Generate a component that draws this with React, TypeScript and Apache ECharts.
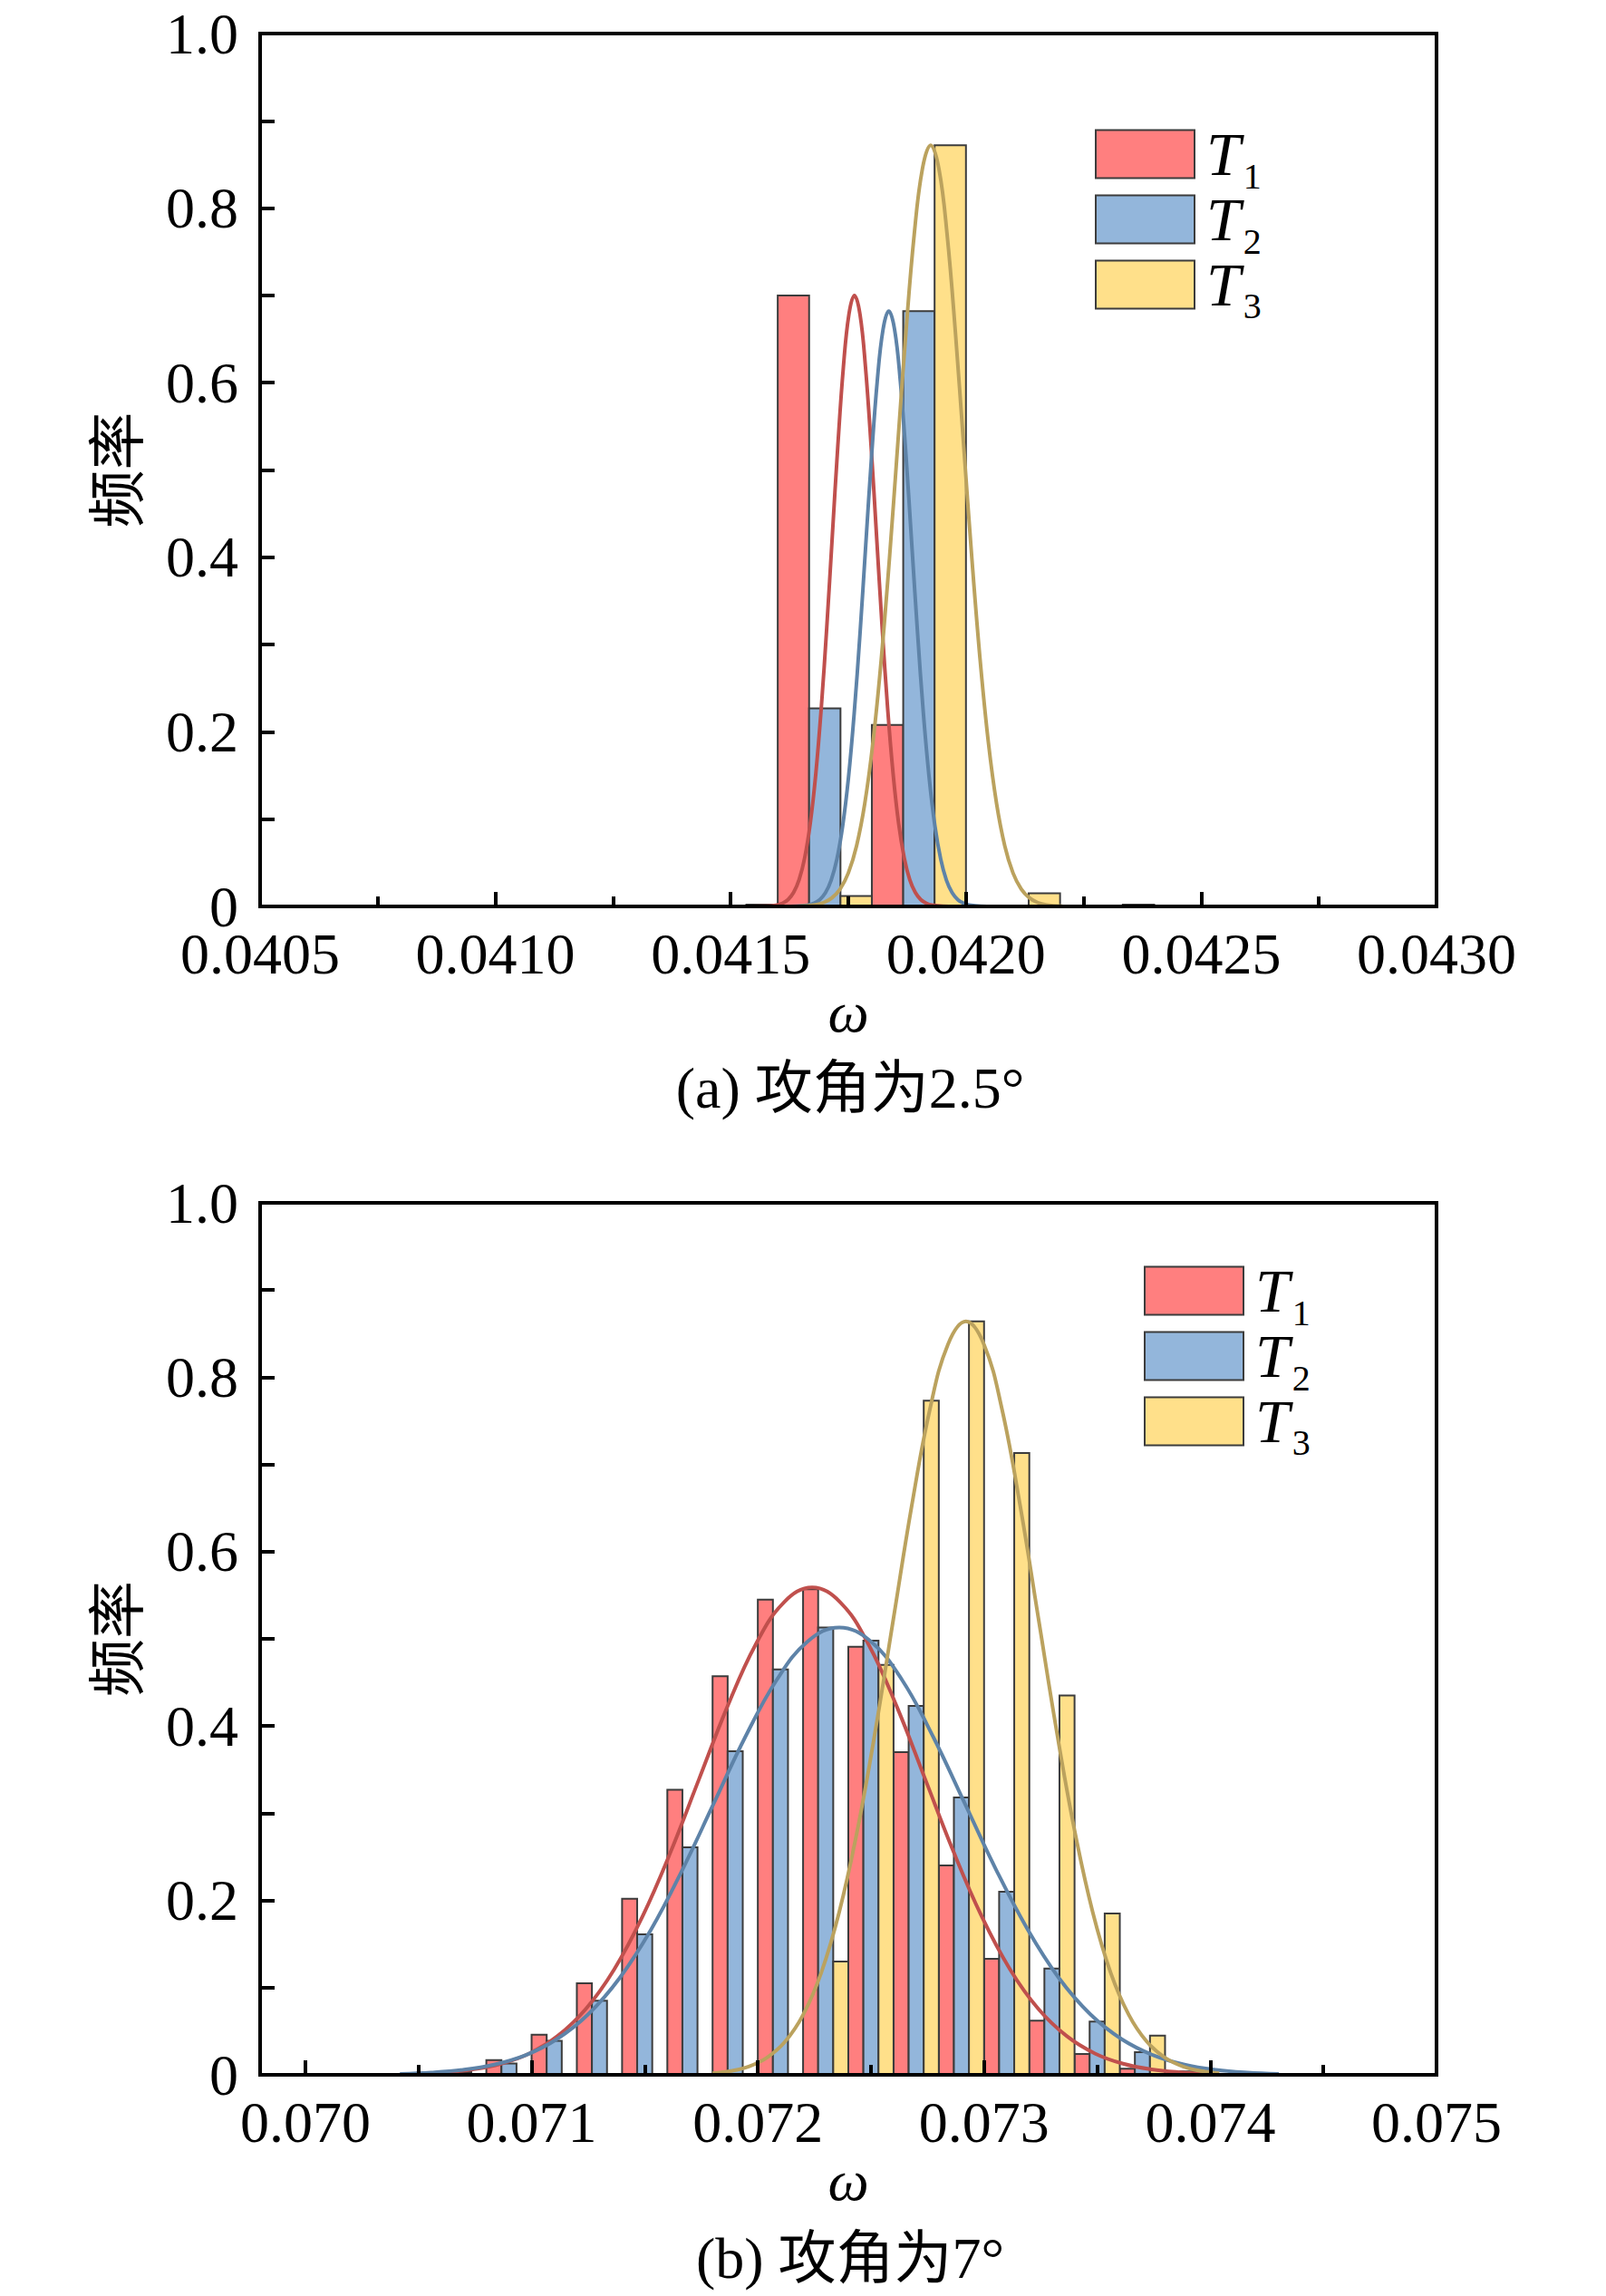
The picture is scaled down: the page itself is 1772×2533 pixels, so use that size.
import { useEffect, useRef } from "react";
import * as echarts from "echarts";

// histogram bin width (both panels), each bin holds T1/T2/T3 side by side
const BIN_W = 0.0002;

// (a) angle of attack 2.5 deg
const binsA = [0.0414, 0.0416, 0.0418, 0.042, 0.0422];
const t1A = [0, 0.7, 0.208, 0, 0];
const t2A = [0, 0.227, 0.682, 0, 0];
const t3A = [0.002, 0.012, 0.872, 0.015, 0.002];

// (b) angle of attack 7 deg
const binsB = [
  0.0706, 0.0708, 0.071, 0.0712, 0.0714, 0.0716, 0.0718, 0.072, 0.0722,
  0.0724, 0.0726, 0.0728, 0.073, 0.0732, 0.0734, 0.0736, 0.0738,
];
const t1B = [0.002, 0.017, 0.046, 0.105, 0.202, 0.327, 0.457, 0.545, 0.557, 0.491, 0.37, 0.24, 0.133, 0.062, 0.024, 0.007, 0];
const t2B = [0.003, 0.013, 0.039, 0.085, 0.161, 0.261, 0.371, 0.465, 0.513, 0.498, 0.423, 0.318, 0.21, 0.122, 0.061, 0.026, 0.004];
const t3B = [0, 0, 0, 0, 0, 0, 0, 0, 0.13, 0.47, 0.773, 0.864, 0.713, 0.435, 0.185, 0.045, 0];

// fitted curves, points
const fitT1A: [number, number][] = [
  [0.04151, 0], [0.041575, 0.0002], [0.0415985, 0.0015], [0.0416103, 0.0036], [0.041622, 0.0078],
  [0.0416338, 0.016], [0.0416455, 0.0307], [0.0416573, 0.0557], [0.041669, 0.0947],
  [0.0416808, 0.1514], [0.0416925, 0.2273], [0.0417043, 0.3205], [0.041716, 0.4246],
  [0.0417278, 0.5284], [0.0417395, 0.6178], [0.0417513, 0.6784], [0.041763, 0.7],
  [0.0417748, 0.6784], [0.0417865, 0.6178], [0.0417983, 0.5284], [0.04181, 0.4246],
  [0.0418218, 0.3205], [0.0418335, 0.2273], [0.0418453, 0.1514], [0.041857, 0.0947],
  [0.0418688, 0.0557], [0.0418805, 0.0307], [0.0418923, 0.016], [0.041904, 0.0078],
  [0.0419158, 0.0036], [0.0419275, 0.0015], [0.041951, 0.0002], [0.04198, 0],
];
const fitT2A: [number, number][] = [
  [0.04161, 0], [0.04164, 0.0002], [0.0416645, 0.0015], [0.0416768, 0.0035], [0.041689, 0.0076],
  [0.0417013, 0.0155], [0.0417135, 0.0299], [0.0417258, 0.0543], [0.041738, 0.0923],
  [0.0417503, 0.1475], [0.0417625, 0.2214], [0.0417748, 0.3122], [0.041787, 0.4136],
  [0.0417993, 0.5148], [0.0418115, 0.6019], [0.0418238, 0.661], [0.041836, 0.682],
  [0.0418483, 0.661], [0.0418605, 0.6019], [0.0418728, 0.5148], [0.041885, 0.4136],
  [0.0418973, 0.3122], [0.0419095, 0.2214], [0.0419218, 0.1475], [0.041934, 0.0923],
  [0.0419463, 0.0543], [0.0419585, 0.0299], [0.0419708, 0.0155], [0.041983, 0.0076],
  [0.0419953, 0.0035], [0.0420075, 0.0015], [0.042032, 0.0002], [0.04206, 0],
];
const fitT3A: [number, number][] = [
  [0.041645, 0.0003], [0.04168, 0.0019], [0.0416975, 0.0044], [0.041715, 0.0097],
  [0.0417325, 0.0199], [0.04175, 0.0383], [0.0417675, 0.0694], [0.041785, 0.118],
  [0.0418025, 0.1886], [0.04182, 0.2831], [0.0418375, 0.3992], [0.041855, 0.5289],
  [0.0418725, 0.6582], [0.04189, 0.7695], [0.0419075, 0.8451], [0.041925, 0.872],
  [0.0419425, 0.8451], [0.04196, 0.7695], [0.0419775, 0.6582], [0.041995, 0.5289],
  [0.0420125, 0.3992], [0.04203, 0.2831], [0.0420475, 0.1886], [0.042065, 0.118],
  [0.0420825, 0.0694], [0.0421, 0.0383], [0.0421175, 0.0199], [0.042135, 0.0097],
  [0.0421525, 0.0044], [0.04217, 0.0019], [0.042205, 0.0003],
];
const fitT1B: [number, number][] = [
  [0.07049, 0.0012], [0.070615, 0.0029], [0.07074, 0.0062], [0.070865, 0.0127],
  [0.07099, 0.0245], [0.071115, 0.0445], [0.07124, 0.0756], [0.071365, 0.1209],
  [0.07149, 0.1815], [0.071615, 0.2559], [0.07174, 0.339], [0.071865, 0.4219],
  [0.07199, 0.4933], [0.072115, 0.5418], [0.07224, 0.559], [0.072365, 0.5418],
  [0.07249, 0.4933], [0.072615, 0.4219], [0.07274, 0.339], [0.072865, 0.2559],
  [0.07299, 0.1815], [0.073115, 0.1209], [0.07324, 0.0756], [0.073365, 0.0445],
  [0.07349, 0.0245], [0.073615, 0.0127], [0.07374, 0.0062], [0.073865, 0.0029],
  [0.07399, 0.0012],
];
const fitT2B: [number, number][] = [
  [0.070418, 0.0011], [0.070556, 0.0026], [0.070695, 0.0057], [0.070834, 0.0117],
  [0.070973, 0.0225], [0.071111, 0.0408], [0.07125, 0.0694], [0.071389, 0.111],
  [0.071528, 0.1666], [0.071666, 0.2349], [0.071805, 0.3111], [0.071944, 0.3872],
  [0.072083, 0.4527], [0.072221, 0.4972], [0.07236, 0.513], [0.072499, 0.4972],
  [0.072638, 0.4527], [0.072776, 0.3872], [0.072915, 0.3111], [0.073054, 0.2349],
  [0.073193, 0.1666], [0.073331, 0.111], [0.07347, 0.0694], [0.073609, 0.0408],
  [0.073748, 0.0225], [0.073886, 0.0117], [0.074025, 0.0057], [0.074164, 0.0026],
  [0.074303, 0.0011],
];
const fitT3B: [number, number][] = [
  [0.0718, 0.0019], [0.07188, 0.0044], [0.07196, 0.0096], [0.07204, 0.0197],
  [0.07212, 0.0379], [0.0722, 0.0688], [0.07228, 0.1169], [0.07236, 0.1869],
  [0.07244, 0.2805], [0.07252, 0.3955], [0.0726, 0.524], [0.07268, 0.6521],
  [0.07276, 0.7625], [0.07284, 0.8374], [0.07292, 0.864], [0.073, 0.8374],
  [0.07308, 0.7625], [0.07316, 0.6521], [0.07324, 0.524], [0.07332, 0.3955],
  [0.0734, 0.2805], [0.07348, 0.1869], [0.07356, 0.1169], [0.07364, 0.0688],
  [0.07372, 0.0379], [0.0738, 0.0197], [0.07388, 0.0096], [0.07396, 0.0044],
  [0.07404, 0.0019],
];

// axis ticks / labels
const xLabelsA = [0.0405, 0.041, 0.0415, 0.042, 0.0425, 0.043];
const xMinorA = [0.04075, 0.04125, 0.04175, 0.04225, 0.04275];
const xLabelsB = [0.07, 0.071, 0.072, 0.073, 0.074, 0.075];
const xMinorB = [0.0705, 0.0715, 0.0725, 0.0735, 0.0745];
const names = ["T1", "T2", "T3"];

const FILL = ["#FF7F7F", "#93B6DB", "#FFE08A"];
const CURVE = ["#C0504D", "#5E83A8", "#BBA25E"];
const EDGE = "#3c3c3c";
const SERIF = '"Liberation Serif", "Times New Roman", "Noto Sans CJK SC", serif';

const bars = (k: number, bins: number[], vals: number[], axis: number): any => ({
  type: "custom",
  name: names[k],
  xAxisIndex: axis * 2,
  yAxisIndex: axis,
  data: bins.map((b, i) => [b, vals[i]]).filter((d) => d[1] > 0),
  encode: { x: 0, y: 1 },
  z: 2,
  renderItem: (_p: any, api: any) => {
    const x0 = api.value(0) + (k * BIN_W) / 3;
    const p0 = api.coord([x0, 0]);
    const p1 = api.coord([x0 + BIN_W / 3, api.value(1)]);
    return {
      type: "rect",
      shape: { x: p0[0], y: p1[1], width: p1[0] - p0[0], height: p0[1] - p1[1] },
      style: { fill: FILL[k], stroke: EDGE, lineWidth: 2 },
    };
  },
});

const curve = (k: number, data: [number, number][], axis: number): any => ({
  type: "line",
  name: names[k] + " fit",
  xAxisIndex: axis * 2,
  yAxisIndex: axis,
  data,
  showSymbol: false,
  symbol: "none",
  smooth: 0.4,
  z: 3,
  lineStyle: { color: CURVE[k], width: 4 },
  itemStyle: { color: CURVE[k] },
});

const xMain = (grid: number, min: number, max: number, labels: number[], digits: number): any => ({
  type: "value",
  gridIndex: grid,
  position: "bottom",
  min,
  max,
  z: 5,
  name: "ω",
  nameLocation: "middle",
  nameGap: 84,
  nameTextStyle: { fontFamily: SERIF, fontSize: 64, fontStyle: "italic", color: "#000" },
  axisLine: { lineStyle: { color: "#000", width: 4 } },
  axisTick: { inside: true, length: 16, lineStyle: { color: "#000", width: 4 }, customValues: labels },
  axisLabel: {
    customValues: labels,
    margin: 25,
    fontFamily: SERIF,
    fontSize: 64,
    lineHeight: 54,
    color: "#000",
    formatter: (v: number) => v.toFixed(digits),
  },
  splitLine: { show: false },
});

const xMinor = (grid: number, min: number, max: number, ticks: number[]): any => ({
  type: "value",
  gridIndex: grid,
  position: "bottom",
  min,
  max,
  z: 5,
  axisLine: { show: false },
  axisLabel: { show: false },
  splitLine: { show: false },
  axisTick: { inside: true, length: 11, lineStyle: { color: "#000", width: 4 }, customValues: ticks },
});

const yAxis = (grid: number): any => ({
  type: "value",
  gridIndex: grid,
  min: 0,
  max: 1,
  interval: 0.1,
  z: 5,
  name: "频率",
  nameLocation: "middle",
  nameRotate: 90,
  nameGap: 125,
  nameTextStyle: { fontFamily: SERIF, fontSize: 64, color: "#000" },
  axisLine: { show: true, lineStyle: { color: "#000", width: 4 } },
  axisTick: { show: true, inside: true, length: 16, lineStyle: { color: "#000", width: 4 } },
  axisLabel: {
    margin: 24,
    fontFamily: SERIF,
    fontSize: 64,
    lineHeight: 40,
    color: "#000",
    formatter: (v: number) => {
      const k = Math.round(v * 10);
      if (k % 2) return "";
      return k === 0 ? "0" : (k / 10).toFixed(1);
    },
  },
  splitLine: { show: false },
});

const legend = (left: number, top: number): any => ({
  orient: "vertical",
  left,
  top,
  padding: 0,
  itemWidth: 109,
  itemHeight: 53,
  itemGap: -16,
  selectedMode: false,
  data: names.map((n, k) => ({
    name: n,
    icon: "rect",
    itemStyle: { color: FILL[k], borderColor: EDGE, borderWidth: 2 },
  })),
  formatter: (n: string) => `{t|T}{s|${n.slice(1)}}`,
  textStyle: {
    color: "#000",
    rich: {
      t: { fontFamily: SERIF, fontSize: 68, fontStyle: "italic", lineHeight: 68, padding: [0, 0, 0, 8], color: "#000" },
      s: { fontFamily: SERIF, fontSize: 40, lineHeight: 42, padding: [48, 0, 0, 3], color: "#000" },
    },
  },
});

export default function App() {
  const ref = useRef<HTMLDivElement>(null);

  useEffect(() => {
    if (!ref.current) return;
    const chart = echarts.init(ref.current, undefined, { renderer: "svg" });
    const option: any = {
      animation: false,
      backgroundColor: "#fff",
      grid: [
        { left: 287, top: 37, width: 1298, height: 963, show: true, borderColor: "#000", borderWidth: 4 },
        { left: 287, top: 1327, width: 1298, height: 962, show: true, borderColor: "#000", borderWidth: 4 },
      ],
      xAxis: [
        xMain(0, 0.0405, 0.043, xLabelsA, 4),
        xMinor(0, 0.0405, 0.043, xMinorA),
        xMain(1, 0.0698, 0.075, xLabelsB, 3),
        xMinor(1, 0.0698, 0.075, xMinorB),
      ],
      yAxis: [yAxis(0), yAxis(1)],
      legend: [legend(1208, 126), legend(1262, 1380)],
      graphic: [
        {
          type: "text",
          x: 938,
          y: 1200,
          style: { text: "(a) 攻角为2.5°", fontFamily: SERIF, fontSize: 64, fill: "#000", align: "center", verticalAlign: "middle" },
        },
        {
          type: "text",
          x: 938,
          y: 2491,
          style: { text: "(b) 攻角为7°", fontFamily: SERIF, fontSize: 64, fill: "#000", align: "center", verticalAlign: "middle" },
        },
      ],
      series: [
        bars(0, binsA, t1A, 0),
        bars(1, binsA, t2A, 0),
        bars(2, binsA, t3A, 0),
        curve(0, fitT1A, 0),
        curve(1, fitT2A, 0),
        curve(2, fitT3A, 0),
        bars(0, binsB, t1B, 1),
        bars(1, binsB, t2B, 1),
        bars(2, binsB, t3B, 1),
        curve(0, fitT1B, 1),
        curve(1, fitT2B, 1),
        curve(2, fitT3B, 1),
      ],
    };
    chart.setOption(option);
    return () => chart.dispose();
  }, []);

  return (
    <div
      ref={ref}
      style={{ position: "absolute", left: 0, top: 0, width: 1772, height: 2533, background: "#fff" }}
    />
  );
}
